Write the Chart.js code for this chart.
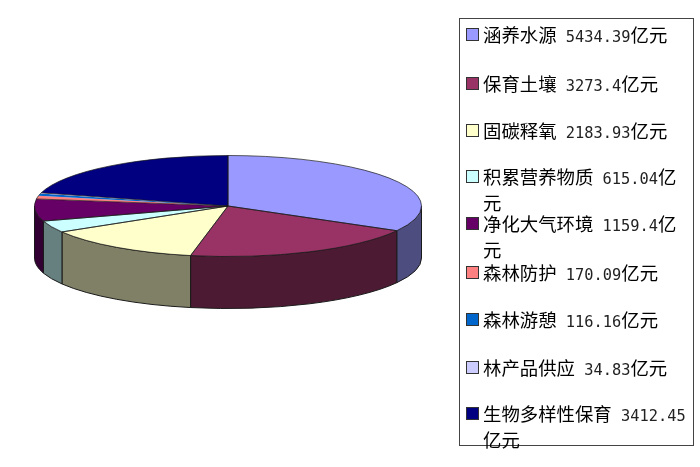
<!DOCTYPE html>
<html><head><meta charset="utf-8">
<style>
html,body{margin:0;padding:0;background:#fff;width:700px;height:467px;overflow:hidden}
#c{position:absolute;left:0;top:0}
#legend{position:absolute;left:459px;top:18px;width:233px;height:426px;border:1px solid #444;background:#fff}
.item{position:absolute;left:23px;width:206px;font:18.4px/23px "Noto Sans CJK SC",sans-serif;color:#000;word-break:break-all}
.num{font:15.35px/23px "DejaVu Sans Mono",monospace;color:#222}
.sw{position:absolute;left:6px;width:11px;height:11px;border:1px solid #333}
</style>
<script src="https://cdn.jsdelivr.net/npm/chart.js@4"></script>
</head><body>
<canvas id="c" width="700" height="467"></canvas>
<div id="legend"></div>
<script>
const categories=["涵养水源","保育土壤","固碳释氧","积累营养物质","净化大气环境","森林防护","森林游憩","林产品供应","生物多样性保育"];
const values=[5434.39,3273.4,2183.93,615.04,1159.4,170.09,116.16,34.83,3412.45];
const valueText=["5434.39","3273.4","2183.93","615.04","1159.4","170.09","116.16","34.83","3412.45"];
const unit="亿元";
const colors=["#9999FF","#993366","#FFFFCC","#CCFFFF","#660066","#FF8080","#0066CC","#CCCCFF","#000080"];
const legendRowCentres=[34,83,130,176,223,272,319,367,413];
const TILT=0.261, DEPTH=52, OUTLINE="#1a1a1a", SLIVER=0.08;

function darken(hex){
  const n=parseInt(hex.slice(1),16);
  return "rgb("+[(n>>16)&255,(n>>8)&255,n&255].map(v=>Math.round(v/2)).join(",")+")";
}
const pie3d={
  id:"pie3d",
  beforeDatasetsDraw(chart){
    const ctx=chart.ctx, arcs=chart.getDatasetMeta(0).data;
    ctx.save();
    arcs.forEach((a,i)=>{
      [[a.startAngle,a.endAngle],[a.startAngle+2*Math.PI,a.endAngle+2*Math.PI],[a.startAngle-2*Math.PI,a.endAngle-2*Math.PI]].forEach(([s,e])=>{
        const a0=Math.max(s,0), a1=Math.min(e,Math.PI);
        if(a1<=a0) return;
        const rx=a.outerRadius, ry=rx*TILT;
        ctx.beginPath();
        ctx.ellipse(a.x,a.y,rx,ry,0,a0,a1,false);
        ctx.ellipse(a.x,a.y+DEPTH,rx,ry,0,a1,a0,true);
        ctx.closePath();
        ctx.fillStyle=darken(colors[i]);
        ctx.fill();
        ctx.lineWidth=1;ctx.strokeStyle=OUTLINE;ctx.stroke();
      });
    });
    ctx.restore();
    const a=arcs[0];
    ctx.save();
    ctx.translate(a.x,a.y);ctx.scale(1,TILT);ctx.translate(-a.x,-a.y);
  },
  afterDatasetsDraw(chart){
    const ctx=chart.ctx, arcs=chart.getDatasetMeta(0).data;
    ctx.restore();
    ctx.save();
    ctx.lineWidth=0.7;ctx.strokeStyle=OUTLINE;
    arcs.forEach(a=>{
      const rx=a.outerRadius, ry=rx*TILT;
      ctx.beginPath();
      if(a.endAngle-a.startAngle<SLIVER){
        ctx.ellipse(a.x,a.y,rx,ry,0,a.startAngle,a.endAngle,false);
      }else{
        ctx.moveTo(a.x,a.y);
        ctx.ellipse(a.x,a.y,rx,ry,0,a.startAngle,a.endAngle,false);
        ctx.closePath();
      }
      ctx.stroke();
    });
    ctx.restore();
  }
};
new Chart(document.getElementById("c"),{
  type:"pie",
  data:{labels:categories,datasets:[{data:values,backgroundColor:colors,borderWidth:0}]},
  plugins:[pie3d],
  options:{
    responsive:false,animation:false,devicePixelRatio:1,
    layout:{padding:{left:34.5,right:278.5,top:12.5,bottom:67.5}},
    plugins:{legend:{display:false},tooltip:{enabled:false},title:{display:false}}
  }
});
const box=document.getElementById("legend");
categories.forEach((name,i)=>{
  const row=document.createElement("div");
  row.className="item";
  row.style.top=(legendRowCentres[i]-19-11.5)+"px";
  row.innerHTML=name+'<span class="num"> '+valueText[i]+'</span>'+unit;
  box.appendChild(row);
  const sw=document.createElement("div");
  sw.className="sw";
  sw.style.top=(legendRowCentres[i]-19-6.5)+"px";
  sw.style.background=colors[i];
  box.appendChild(sw);
});
</script>
</body></html>
